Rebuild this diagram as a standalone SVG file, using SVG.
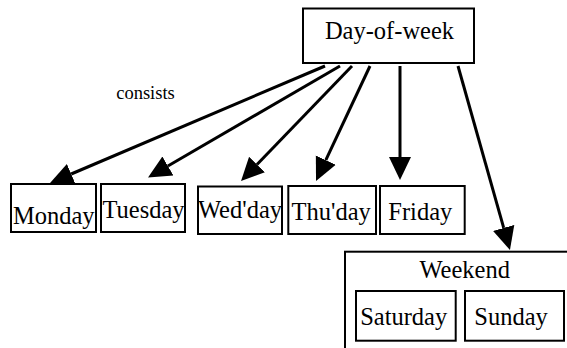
<svg xmlns="http://www.w3.org/2000/svg" width="567" height="348" viewBox="0 0 567 348">
<style>
  .box { fill: #fff; stroke: #000; stroke-width: 2; }
  .lbl { font-family: "Liberation Serif", "Times New Roman", serif; font-size: 24.5px; fill: #000; text-anchor: middle; }
  .elbl { font-family: "Liberation Serif", "Times New Roman", serif; font-size: 18.5px; fill: #000; text-anchor: middle; }
  .edge { stroke: #000; stroke-width: 3; fill: none; marker-end: url(#arrow); }
</style>
<defs>
  <marker id="arrow" markerUnits="userSpaceOnUse" markerWidth="24" markerHeight="24" viewBox="0 -12 24 24" refX="0" refY="0" orient="auto">
    <path d="M0,-11 L23,0 L0,11 z" fill="#000"/>
  </marker>
</defs>
<rect width="567" height="348" fill="#fff"/>
<g id="connectors">
  <line class="edge" x1="325" y1="66" x2="71.2" y2="174"/>
  <line class="edge" x1="340" y1="66" x2="167.9" y2="166"/>
  <line class="edge" x1="352" y1="66" x2="257" y2="164.5"/>
  <line class="edge" x1="370" y1="66" x2="325.8" y2="160.2"/>
  <line class="edge" x1="400" y1="66" x2="400" y2="157"/>
  <line class="edge" x1="458" y1="66" x2="503.7" y2="227.9"/>
  <text class="elbl" x="145.5" y="99.3">consists</text>
</g>
<g id="day-of-week">
  <rect class="box" x="303" y="8.5" width="171" height="54.5"/>
  <text class="lbl" x="389.5" y="39.3">Day-of-week</text>
</g>
<g id="monday">
  <rect class="box" x="11" y="184" width="85" height="48"/>
  <text class="lbl" x="53.8" y="224">Monday</text>
</g>
<g id="tuesday">
  <rect class="box" x="101" y="184" width="84" height="48"/>
  <text class="lbl" x="143.5" y="217.7">Tuesday</text>
</g>
<g id="wednesday">
  <rect class="box" x="198" y="186.5" width="84" height="47.5"/>
  <text class="lbl" x="240" y="217.7">Wed'day</text>
</g>
<g id="thursday">
  <rect class="box" x="288.3" y="186" width="87.7" height="48"/>
  <text class="lbl" x="331.2" y="219.5">Thu'day</text>
</g>
<g id="friday">
  <rect class="box" x="380" y="186" width="84.7" height="48"/>
  <text class="lbl" x="420.3" y="219.5">Friday</text>
</g>
<g id="weekend">
  <rect class="box" x="345" y="251.7" width="240" height="120"/>
  <text class="lbl" x="464.7" y="278.3">Weekend</text>
  <g id="saturday">
    <rect class="box" x="356" y="291" width="99.7" height="49.7"/>
    <text class="lbl" x="403.7" y="325">Saturday</text>
  </g>
  <g id="sunday">
    <rect class="box" x="465" y="291" width="99" height="49.7"/>
    <text class="lbl" x="511" y="325">Sunday</text>
  </g>
</g>
</svg>
